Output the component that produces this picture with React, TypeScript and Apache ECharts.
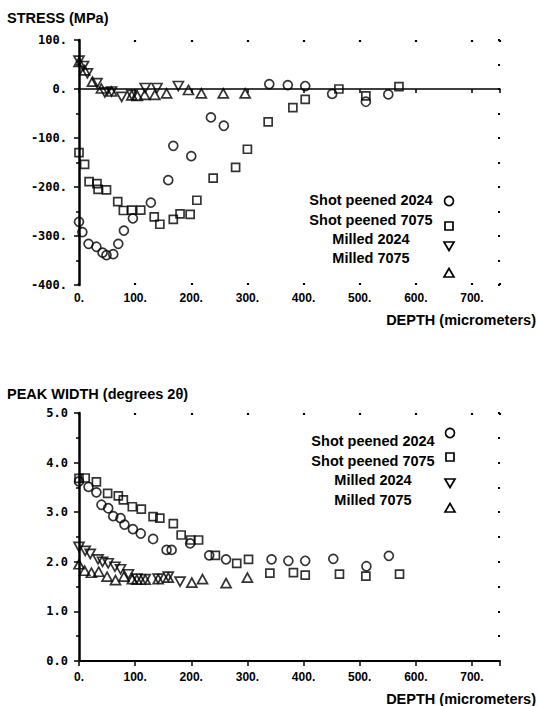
import React, { useEffect, useRef } from "react";
import * as echarts from "echarts";

// ---------- data: residual stress (top chart) ----------
const sp2024StressDepth = [0, 6, 17, 31, 42, 49, 61, 70, 80, 96, 128, 159, 168, 200, 235, 258, 339, 372, 403, 451, 511, 551];
const sp2024Stress = [-271, -292, -316, -322, -334, -339, -337, -316, -289, -264, -232, -186, -116, -137, -58, -75, 10, 8, 6, -10, -26, -11];

const sp7075StressDepth = [0, 10, 18, 32, 34, 49, 69, 79, 94, 110, 134, 144, 168, 180, 198, 210, 239, 279, 300, 337, 381, 403, 463, 511, 570];
const sp7075Stress = [-130, -154, -189, -193, -205, -206, -230, -248, -247, -247, -261, -276, -266, -255, -256, -227, -182, -160, -123, -67, -38, -21, 0, -14, 5];

const m2024StressDepth = [0, 8, 15, 32, 46, 58, 76, 94, 118, 139, 177];
const m2024Stress = [58, 47, 32, 12, -7, -5, -16, -12, 2, 2, 6];

const m7075StressDepth = [0, 10, 24, 40, 58, 94, 104, 117, 135, 156, 195, 218, 257, 296];
const m7075Stress = [55, 38, 15, 1, -5, -13, -14, -12, -12, -9, -2, -9, -9, -9];

// ---------- data: peak width (bottom chart) ----------
const sp2024WidthDepth = [0, 17, 31, 40, 52, 61, 74, 81, 96, 110, 132, 156, 165, 198, 232, 262, 343, 373, 403, 453, 512, 552];
const sp2024Width = [3.62, 3.51, 3.4, 3.15, 3.08, 2.92, 2.88, 2.75, 2.66, 2.57, 2.46, 2.24, 2.24, 2.37, 2.13, 2.05, 2.05, 2.02, 2.02, 2.06, 1.91, 2.12];

const sp7075WidthDepth = [0, 11, 31, 51, 70, 79, 95, 111, 132, 144, 168, 182, 199, 213, 243, 281, 302, 340, 382, 403, 464, 511, 571];
const sp7075Width = [3.68, 3.69, 3.61, 3.38, 3.33, 3.25, 3.11, 3.06, 2.91, 2.88, 2.77, 2.54, 2.44, 2.44, 2.13, 1.97, 2.05, 1.77, 1.78, 1.73, 1.75, 1.71, 1.75];

const m2024WidthDepth = [0, 11, 20, 34, 42, 52, 64, 74, 88, 103, 118, 141, 159, 180];
const m2024Width = [2.3, 2.22, 2.16, 2.05, 2.0, 1.97, 1.9, 1.85, 1.75, 1.66, 1.65, 1.66, 1.7, 1.6];

const m7075WidthDepth = [0, 10, 22, 35, 50, 65, 80, 95, 103, 118, 141, 159, 201, 220, 262, 300];
const m7075Width = [1.95, 1.82, 1.78, 1.8, 1.7, 1.63, 1.7, 1.65, 1.64, 1.64, 1.65, 1.68, 1.58, 1.65, 1.57, 1.68];

// ---------- labels ----------
const legendLabels = ["Shot peened 2024", "Shot peened 7075", "Milled 2024", "Milled 7075"];

const zip = (xs: number[], ys: number[]) => xs.map((x, i) => [x, ys[i]]);

const BLACK = "#000";
const markStyle = { color: "rgba(0,0,0,0)", borderColor: BLACK, borderWidth: 1.7 };
const tickFont = { fontFamily: "Liberation Sans", fontWeight: "bold" as const, fontSize: 12, color: BLACK };
const yFont = { fontFamily: "DejaVu Sans Mono", fontWeight: "bold" as const, fontSize: 12, color: BLACK };
const textFont = "Liberation Sans";

function seriesSet(
  gi: number,
  xi: number,
  yi: number,
  a: number[][],
  b: number[][],
  c: number[][],
  d: number[][]
) {
  const base = { type: "scatter", xAxisIndex: xi, yAxisIndex: yi, itemStyle: markStyle, z: 5 };
  return [
    { ...base, name: legendLabels[0] + gi, symbol: "circle", symbolSize: 9, data: a },
    { ...base, name: legendLabels[1] + gi, symbol: "rect", symbolSize: 8, data: b },
    { ...base, name: legendLabels[2] + gi, symbol: "triangle", symbolRotate: 180, symbolSize: [10, 9], data: c },
    { ...base, name: legendLabels[3] + gi, symbol: "triangle", symbolSize: [10, 9], data: d },
  ];
}

function legendGraphics(textX: number, textYs: number[], symX: number, symYs: number[]) {
  const els: any[] = [];
  legendLabels.forEach((lab, i) => {
    els.push({
      type: "text",
      x: textX,
      y: textYs[i],
      style: {
        text: lab,
        fill: BLACK,
        font: `bold 14.5px ${textFont}`,
        textAlign: "center",
        textVerticalAlign: "middle",
      },
    });
  });
  const ss = { fill: "none", stroke: BLACK, lineWidth: 1.7 };
  els.push({ type: "circle", shape: { cx: symX, cy: symYs[0], r: 4.5 }, style: ss });
  els.push({ type: "rect", shape: { x: symX - 4, y: symYs[1] - 4, width: 8, height: 8 }, style: ss });
  els.push({
    type: "polygon",
    shape: { points: [[symX - 5, symYs[2] - 4], [symX + 5, symYs[2] - 4], [symX, symYs[2] + 4.5]] },
    style: ss,
  });
  els.push({
    type: "polygon",
    shape: { points: [[symX - 5, symYs[3] + 4], [symX + 5, symYs[3] + 4], [symX, symYs[3] - 4.5]] },
    style: ss,
  });
  return els;
}

const depthFmt = (v: number) => (v % 100 === 0 ? v + "." : "");

export default function App() {
  const ref = useRef<HTMLDivElement>(null);
  useEffect(() => {
    if (!ref.current) return;
    const chart = echarts.init(ref.current, null, { renderer: "svg" });
    const dotTick = { show: true, inside: true, length: 2, lineStyle: { color: BLACK, width: 2.2 } };
    const hiddenLine = { show: true, onZero: false, lineStyle: { color: "rgba(0,0,0,0)", width: 0 } };
    const option: any = {
      animation: false,
      backgroundColor: "#fff",
      grid: [
        { left: 79, top: 40, width: 421, height: 245 },
        { left: 79, top: 413, width: 421, height: 248 },
      ],
      xAxis: [
        // top chart: labels at bottom with dot ticks
        {
          gridIndex: 0, type: "value", min: 0, max: 750, interval: 100, position: "bottom",
          axisLine: hiddenLine,
          axisTick: dotTick,
          axisLabel: { ...tickFont, margin: 7, formatter: depthFmt },
          splitLine: { show: false },
        },
        // top chart: zero line
        {
          gridIndex: 0, type: "value", min: 0, max: 750, interval: 100, position: "bottom",
          axisLine: { show: true, onZero: true, lineStyle: { color: BLACK, width: 1.6 } },
          axisTick: { show: true, length: 4, lineStyle: { color: BLACK, width: 1.5 } },
          axisLabel: { show: false },
          splitLine: { show: false },
        },
        // top chart: frame dots on top
        {
          gridIndex: 0, type: "value", min: 0, max: 750, interval: 100, position: "top",
          axisLine: hiddenLine,
          axisTick: dotTick,
          axisLabel: { show: false },
          splitLine: { show: false },
        },
        // bottom chart axis
        {
          gridIndex: 1, type: "value", min: 0, max: 750, interval: 100, position: "bottom",
          axisLine: { show: true, onZero: false, lineStyle: { color: BLACK, width: 2 } },
          axisTick: { show: true, length: 5, lineStyle: { color: BLACK, width: 1.5 } },
          axisLabel: { ...tickFont, margin: 10, formatter: depthFmt },
          splitLine: { show: false },
        },
        // bottom chart frame dots on top
        {
          gridIndex: 1, type: "value", min: 0, max: 750, interval: 100, position: "top",
          axisLine: hiddenLine,
          axisTick: dotTick,
          axisLabel: { show: false },
          splitLine: { show: false },
        },
      ],
      yAxis: [
        {
          gridIndex: 0, type: "value", min: -400, max: 100, interval: 100, position: "left",
          axisLine: { show: true, onZero: false, lineStyle: { color: BLACK, width: 2.5 } },
          axisTick: { show: true, length: 5, lineStyle: { color: BLACK, width: 1.5 } },
          minorTick: { show: true, splitNumber: 2, length: 3, lineStyle: { color: BLACK, width: 1.5 } },
          axisLabel: { ...yFont, margin: 12, formatter: (v: number) => v + "." },
          splitLine: { show: false },
          minorSplitLine: { show: false },
        },
        {
          gridIndex: 0, type: "value", min: -400, max: 100, interval: 50, position: "right",
          axisLine: hiddenLine,
          axisTick: dotTick,
          axisLabel: { show: false },
          splitLine: { show: false },
        },
        {
          gridIndex: 1, type: "value", min: 0, max: 5, interval: 1, position: "left",
          axisLine: { show: true, onZero: false, lineStyle: { color: BLACK, width: 2.5 } },
          axisTick: { show: true, length: 5, lineStyle: { color: BLACK, width: 1.5 } },
          minorTick: { show: true, splitNumber: 2, length: 3, lineStyle: { color: BLACK, width: 1.5 } },
          axisLabel: { ...yFont, margin: 11, formatter: (v: number) => v.toFixed(1) },
          splitLine: { show: false },
          minorSplitLine: { show: false },
        },
        {
          gridIndex: 1, type: "value", min: 0, max: 5, interval: 0.5, position: "right",
          axisLine: hiddenLine,
          axisTick: dotTick,
          axisLabel: { show: false },
          splitLine: { show: false },
        },
      ],
      series: [
        ...seriesSet(
          0, 0, 0,
          zip(sp2024StressDepth, sp2024Stress),
          zip(sp7075StressDepth, sp7075Stress),
          zip(m2024StressDepth, m2024Stress),
          zip(m7075StressDepth, m7075Stress)
        ),
        ...seriesSet(
          1, 3, 2,
          zip(sp2024WidthDepth, sp2024Width),
          zip(sp7075WidthDepth, sp7075Width),
          zip(m2024WidthDepth, m2024Width),
          zip(m7075WidthDepth, m7075Width)
        ),
      ],
      graphic: [
        {
          type: "text", x: 7, y: 18,
          style: { text: "STRESS (MPa)", fill: BLACK, font: `bold 14.5px ${textFont}`, textVerticalAlign: "middle" },
        },
        {
          type: "text", x: 7, y: 394,
          style: { text: "PEAK WIDTH (degrees 2θ)", fill: BLACK, font: `bold 14.5px ${textFont}`, textVerticalAlign: "middle" },
        },
        {
          type: "text", x: 536, y: 320,
          style: { text: "DEPTH (micrometers)", fill: BLACK, font: `bold 14.5px ${textFont}`, textAlign: "right", textVerticalAlign: "middle" },
        },
        {
          type: "text", x: 536, y: 699,
          style: { text: "DEPTH (micrometers)", fill: BLACK, font: `bold 14.5px ${textFont}`, textAlign: "right", textVerticalAlign: "middle" },
        },
        ...legendGraphics(371, [200, 220, 239, 258], 449, [201, 226, 246, 273]),
        ...legendGraphics(373, [441, 461, 480, 500], 450, [433, 457, 483, 508]),
      ],
    };
    chart.setOption(option);
    return () => chart.dispose();
  }, []);
  return (
    <div
      ref={ref}
      style={{ position: "absolute", left: 0, top: 0, width: 537, height: 706, background: "#fff" }}
    />
  );
}
